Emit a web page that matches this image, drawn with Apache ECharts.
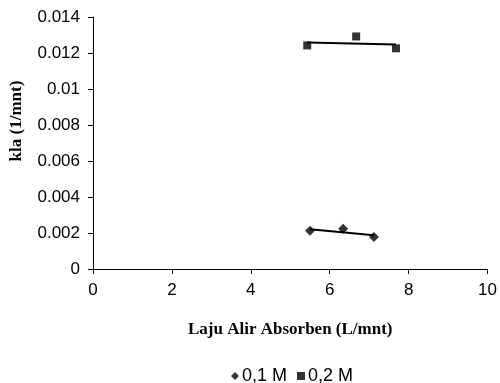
<!DOCTYPE html>
<html>
<head>
<meta charset="utf-8">
<script src="https://cdn.jsdelivr.net/npm/echarts@6/dist/echarts.min.js"></script>
<style>html,body{margin:0;padding:0;background:#fff}#c{width:500px;height:383px}</style>
</head>
<body>
<div id="c"></div>
<script>
// Data
var x01 = [5.5, 6.34, 7.12];
var y01 = [0.00212, 0.00223, 0.00178];
var x02 = [5.43, 6.67, 7.68];
var y02 = [0.01242, 0.01292, 0.01226];
// Trend line endpoints
var trend01 = [[5.5, 0.00221], [7.12, 0.00188]];
var trend02 = [[5.43, 0.01259], [7.68, 0.01247]];
var xTicks = [0, 2, 4, 6, 8, 10];
var yTicks = [0, 0.002, 0.004, 0.006, 0.008, 0.01, 0.012, 0.014];
var seriesNames = ['0,1 M', '0,2 M'];

function zip(a, b) { return a.map(function (v, i) { return [v, b[i]]; }); }

var chart = echarts.init(document.getElementById('c'), null, {renderer: 'canvas'});
var axisFont = {color: '#000', fontFamily: 'Liberation Sans, Arial', fontSize: 17};
chart.setOption({
  animation: false,
  backgroundColor: '#fff',
  grid: {left: 93, right: 10, top: 17, bottom: 114},
  xAxis: {
    type: 'value', min: 0, max: 10, interval: 2,
    axisLine: {show: true, lineStyle: {color: '#000', width: 1}},
    axisTick: {show: true, length: 5, lineStyle: {color: '#000'}},
    splitLine: {show: false},
    axisLabel: Object.assign({margin: 13, formatter: function (v) { return xTicks.indexOf(v) >= 0 ? String(v) : ''; }}, axisFont),
    name: 'Laju Alir Absorben (L/mnt)',
    nameLocation: 'middle', nameGap: 52,
    nameTextStyle: {color: '#000', fontFamily: 'Liberation Serif, Times New Roman', fontWeight: 'bold', fontSize: 17}
  },
  yAxis: {
    type: 'value', min: 0, max: 0.014, interval: 0.002,
    axisLine: {show: true, lineStyle: {color: '#000', width: 1}},
    axisTick: {show: true, length: 5, lineStyle: {color: '#000'}},
    splitLine: {show: false},
    axisLabel: Object.assign({margin: 13, formatter: function (v) {
      var r = Math.round(v * 1000) / 1000; return String(r);
    }}, axisFont)
  },
  graphic: [{
    type: 'text', x: 17, y: 121,
    style: {text: 'kla (1/mnt)', fill: '#000', font: 'bold 17px "Liberation Serif", "Times New Roman"', align: 'center', verticalAlign: 'middle'},
    rotation: Math.PI / 2
  }],
  legend: {
    data: [{name: seriesNames[0], icon: 'diamond'}, {name: seriesNames[1], icon: 'rect'}],
    top: 362, left: 226,
    itemWidth: 8, itemHeight: 8, itemGap: 10,
    textStyle: {color: '#000', fontFamily: 'Liberation Sans, Arial', fontSize: 18, padding: [0, 0, 0, -2]}
  },
  series: [
    {name: seriesNames[0], type: 'scatter', symbol: 'diamond', symbolSize: 10, data: zip(x01, y01), itemStyle: {color: '#000'}, z: 3},
    {name: seriesNames[1], type: 'scatter', symbol: 'rect', symbolSize: 8, data: zip(x02, y02), itemStyle: {color: '#000'}, z: 3},
    {name: 't1', type: 'line', data: trend01, showSymbol: false, symbol: 'none', lineStyle: {color: '#000', width: 2}, z: 2},
    {name: 't2', type: 'line', data: trend02, showSymbol: false, symbol: 'none', lineStyle: {color: '#000', width: 2}, z: 2}
  ]
});
</script>
</body>
</html>
